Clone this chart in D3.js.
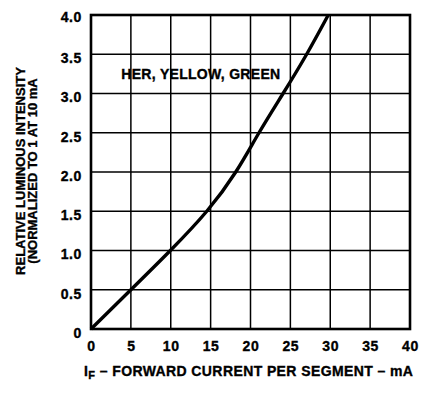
<!DOCTYPE html>
<html>
<head>
<meta charset="utf-8">
<script src="https://cdn.jsdelivr.net/npm/d3@7"></script>
<style>
  html, body { margin: 0; padding: 0; background: #fff; }
  svg { display: block; }
  text { font-family: "Liberation Sans", Arial, sans-serif; font-weight: bold; fill: #000; stroke: #000; stroke-width: 0.35px; }
</style>
</head>
<body>
<script>
// Data
const currentMA = [0, 5, 10, 14.7, 18.3, 21.0, 24.1, 27.1, 29.75];
const relIntensity = [0, 0.5, 1.0, 1.5, 2.0, 2.5, 3.0, 3.5, 4.0];
const xTicks = [0, 5, 10, 15, 20, 25, 30, 35, 40];
const yTicks = [0, 0.5, 1.0, 1.5, 2.0, 2.5, 3.0, 3.5, 4.0];
const yTickLabels = ["0", "0.5", "1.0", "1.5", "2.0", "2.5", "3.0", "3.5", "4.0"];
const seriesLabel = "HER, YELLOW, GREEN";
const yTitle = ["RELATIVE LUMINOUS INTENSITY", "(NORMALIZED TO 1 AT 10 mA"];

const W = 422, H = 402;
const m = { left: 91, right: 12, top: 15, bottom: 73 };

const svg = d3.select("body").append("svg").attr("width", W).attr("height", H);

const x = d3.scaleLinear().domain([0, 40]).range([m.left, W - m.right]);
const y = d3.scaleLinear().domain([0, 4]).range([H - m.bottom, m.top]);

// grid
svg.append("g").selectAll("line.v").data(xTicks).join("line")
  .attr("x1", d => x(d)).attr("x2", d => x(d))
  .attr("y1", y(0)).attr("y2", y(4))
  .attr("stroke", "#000").attr("stroke-width", 1.5);
svg.append("g").selectAll("line.h").data(yTicks).join("line")
  .attr("y1", d => y(d)).attr("y2", d => y(d))
  .attr("x1", x(0)).attr("x2", x(40))
  .attr("stroke", "#000").attr("stroke-width", 1.5);

// frame
svg.append("rect")
  .attr("x", x(0)).attr("y", y(4))
  .attr("width", x(40) - x(0)).attr("height", y(0) - y(4))
  .attr("fill", "none").attr("stroke", "#000").attr("stroke-width", 2.6);

// axes labels
const xAxis = d3.axisBottom(x).tickValues(xTicks).tickSize(0).tickPadding(0).tickFormat(d3.format("d"));
const gx = svg.append("g").attr("transform", `translate(0,${y(0) + 12})`).call(xAxis);
gx.select(".domain").remove();
gx.selectAll("text").attr("dy", "0.71em").attr("font-size", 14).attr("font-family", null)
  .style("letter-spacing", "0.6px");

const yAxis = d3.axisLeft(y).tickValues(yTicks).tickSize(0).tickPadding(0)
  .tickFormat((d, i) => yTickLabels[i]);
const gy = svg.append("g").attr("transform", `translate(${x(0) - 9},0)`).call(yAxis);
gy.select(".domain").remove();
gy.selectAll("text").attr("dy", "0.6em").attr("font-size", 14).attr("font-family", null)
  .style("letter-spacing", "0.6px");
gy.selectAll("text").filter((d, i) => i === yTicks.length - 1).attr("dy", "0.45em");

// curve
const line = d3.line().x(d => x(d[0])).y(d => y(d[1])).curve(d3.curveBasis);
const pts = currentMA.map((c, i) => [c, relIntensity[i]]);
const padded = [pts[0], ...pts, pts[pts.length - 1]];
svg.append("path")
  .datum(padded)
  .attr("d", line)
  .attr("fill", "none").attr("stroke", "#000").attr("stroke-width", 3.4)
  .attr("stroke-linecap", "butt");

// series label
svg.append("text").attr("x", x(3.8)).attr("y", y(3.25) + 5)
  .attr("font-size", 14).style("letter-spacing", "0.3px").text(seriesLabel);

// y title
const yt = svg.append("text").attr("transform", `translate(25,171) rotate(-90)`)
  .attr("text-anchor", "middle").attr("font-size", 13);
yt.append("tspan").attr("x", 0).attr("y", 0).text(yTitle[0]);
yt.append("tspan").attr("x", 0).attr("y", 12).text(yTitle[1]);

// x title
const xt = svg.append("text").attr("x", 84).attr("y", 376).attr("font-size", 14).style("letter-spacing", "0.4px");
xt.append("tspan").text("I");
xt.append("tspan").attr("font-size", 11).attr("dy", 3).text("F");
xt.append("tspan").attr("dy", -3).text(" – FORWARD CURRENT PER SEGMENT – mA");
</script>
</body>
</html>
